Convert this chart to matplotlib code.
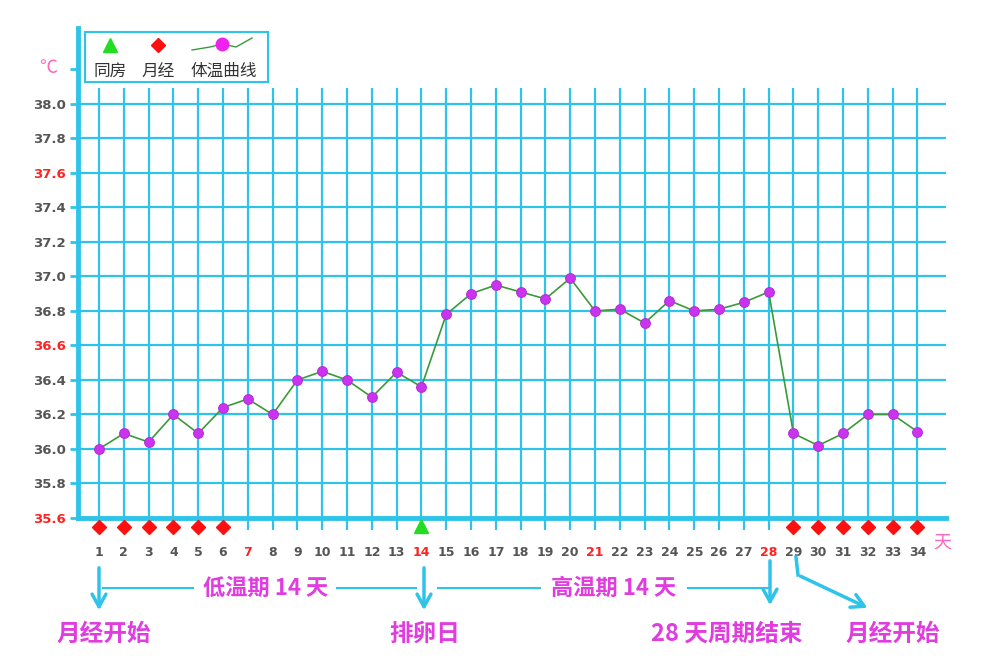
import matplotlib.pyplot as plt
import numpy as np
from matplotlib.patches import FancyArrowPatch, Rectangle
from matplotlib.lines import Line2D

plt.rcParams['font.family'] = ['Noto Sans CJK SC', 'DejaVu Sans']

days = list(range(1, 35))
temps = [36.00, 36.09, 36.04, 36.20, 36.09, 36.24, 36.29, 36.20, 36.40, 36.45,
         36.40, 36.30, 36.445, 36.36, 36.78, 36.90, 36.95, 36.91, 36.87, 36.99,
         36.80, 36.81, 36.73, 36.86, 36.80, 36.81, 36.85, 36.91, 36.09, 36.02,
         36.09, 36.20, 36.20, 36.10]
period_days = [1, 2, 3, 4, 5, 6, 29, 30, 31, 32, 33, 34]
sex_days = [14]
red_days = [7, 14, 21, 28]
yticks = [35.6, 35.8, 36.0, 36.2, 36.4, 36.6, 36.8, 37.0, 37.2, 37.4, 37.6, 37.8, 38.0]
red_yticks = [35.6, 36.6, 37.6]

W, H = 983, 668
CYAN = '#2ec4ea'
PINK = '#e03ce0'
GRAY = '#555555'

fig = plt.figure(figsize=(W / 100, H / 100), dpi=100)
ax = fig.add_axes([78 / W, 1 - 518 / H, (946 - 78) / W, (518 - 28) / H])
ax.set_xlim(0.153, 35.15)
ax.set_ylim(35.6, 38.44)

# grid
for yv in yticks:
    ax.axhline(yv, color=CYAN, lw=1.6, zorder=1)
ax.vlines(days, 35.53, 38.09, color=CYAN, lw=1.6, zorder=1, clip_on=False)

for s in ['top', 'right']:
    ax.spines[s].set_visible(False)
ax.spines['left'].set_color(CYAN)
ax.spines['left'].set_linewidth(3.5)
ax.spines['bottom'].set_color(CYAN)
ax.spines['bottom'].set_linewidth(3.5)

ax.set_yticks(yticks + [38.2])
ax.set_yticklabels([f'{v:.1f}' for v in yticks] + [''])
for lab, v in zip(ax.get_yticklabels(), yticks + [38.2]):
    lab.set_color('#ff2020' if v in red_yticks else GRAY)
    lab.set_fontweight('bold')
    lab.set_fontsize(9.5)
    lab.set_family('DejaVu Sans')
ax.tick_params(axis='y', length=6, width=2, color=CYAN, pad=3)

ax.set_xticks(days)
ax.set_xticklabels([str(d) for d in days])
for lab, d in zip(ax.get_xticklabels(), days):
    lab.set_color('#ff2020' if d in red_days else GRAY)
    lab.set_fontweight('bold')
    lab.set_fontsize(9)
    lab.set_family('DejaVu Sans')
ax.tick_params(axis='x', length=0, pad=20)

# temperature curve
ax.plot(days, temps, color='#3a9a3a', lw=1.2, zorder=3)
ax.plot(days, temps, 'o', color='#cc33ee', ms=7, mec='#b030d8', mew=0.8, zorder=4)

# markers below the axis
ax.plot(period_days, [35.548] * len(period_days), 'D', color='#ff1010', ms=7.5,
        clip_on=False, zorder=5)
ax.plot(sex_days, [35.552] * len(sex_days), '^', color='#22dd22', ms=9.5,
        clip_on=False, zorder=5)

# unit labels
fig.text(48 / W, 1 - 68 / H, '℃', color='#ff66bb', fontsize=13, ha='center', va='center')
fig.text(942 / W, 1 - 543 / H, '天', color='#ff66bb', fontsize=13, ha='center', va='center')

# legend box
lax = fig.add_axes([85 / W, 1 - 82 / H, (268 - 85) / W, (82 - 32) / H])
lax.set_xlim(85, 268)
lax.set_ylim(82, 32)
lax.set_xticks([])
lax.set_yticks([])
for s in lax.spines.values():
    s.set_color(CYAN)
    s.set_linewidth(1.5)
lax.plot([110], [45], '^', color='#22dd22', ms=9.5)
lax.plot([158], [45], 'D', color='#ff1010', ms=7)
lax.plot([192, 210, 222, 236, 252], [50, 47, 44, 47, 38], color='#3a9a3a', lw=1)
lax.plot([222], [44], 'o', color='#ee22ee', ms=9)
lax.text(110, 71, '同房', ha='center', va='center', fontsize=12, color='#333333')
lax.text(158, 71, '月经', ha='center', va='center', fontsize=12, color='#333333')
lax.text(224, 71, '体温曲线', ha='center', va='center', fontsize=12, color='#333333')


def P(x, y):
    return (x / W, 1 - y / H)


def arrow(pts):
    xs = [p[0] / W for p in pts]
    ys = [1 - p[1] / H for p in pts]
    if len(pts) > 2:
        fig.add_artist(Line2D(xs[:-1], ys[:-1], color=CYAN, lw=2.5))
    fig.add_artist(FancyArrowPatch(P(*pts[-2]), P(*pts[-1]), transform=fig.transFigure,
                                   arrowstyle='->,head_width=5,head_length=9',
                                   color=CYAN, lw=2.5, mutation_scale=1))


def hline(x0, x1, y):
    fig.add_artist(Line2D([x0 / W, x1 / W], [1 - y / H, 1 - y / H], color=CYAN, lw=1.5))


arrow([(99, 565), (99, 613)])
arrow([(424, 565), (424, 613)])
arrow([(770, 558), (770, 608)])
arrow([(796, 557), (798, 575), (870, 609)])
hline(103, 193, 588)
hline(337, 416, 588)
hline(438, 540, 588)
hline(688, 768, 588)

fig.text(*P(266, 588), '低温期 14 天', color=PINK, fontsize=16, fontweight='bold',
         ha='center', va='center')
fig.text(*P(614, 588), '高温期 14 天', color=PINK, fontsize=16, fontweight='bold',
         ha='center', va='center')
fig.text(*P(104, 634), '月经开始', color=PINK, fontsize=17, fontweight='bold',
         ha='center', va='center')
fig.text(*P(425, 634), '排卵日', color=PINK, fontsize=17, fontweight='bold',
         ha='center', va='center')
fig.text(*P(727, 634), '28 天周期结束', color=PINK, fontsize=17, fontweight='bold',
         ha='center', va='center')
fig.text(*P(893, 634), '月经开始', color=PINK, fontsize=17, fontweight='bold',
         ha='center', va='center')

fig.savefig('out.png', dpi=100)
